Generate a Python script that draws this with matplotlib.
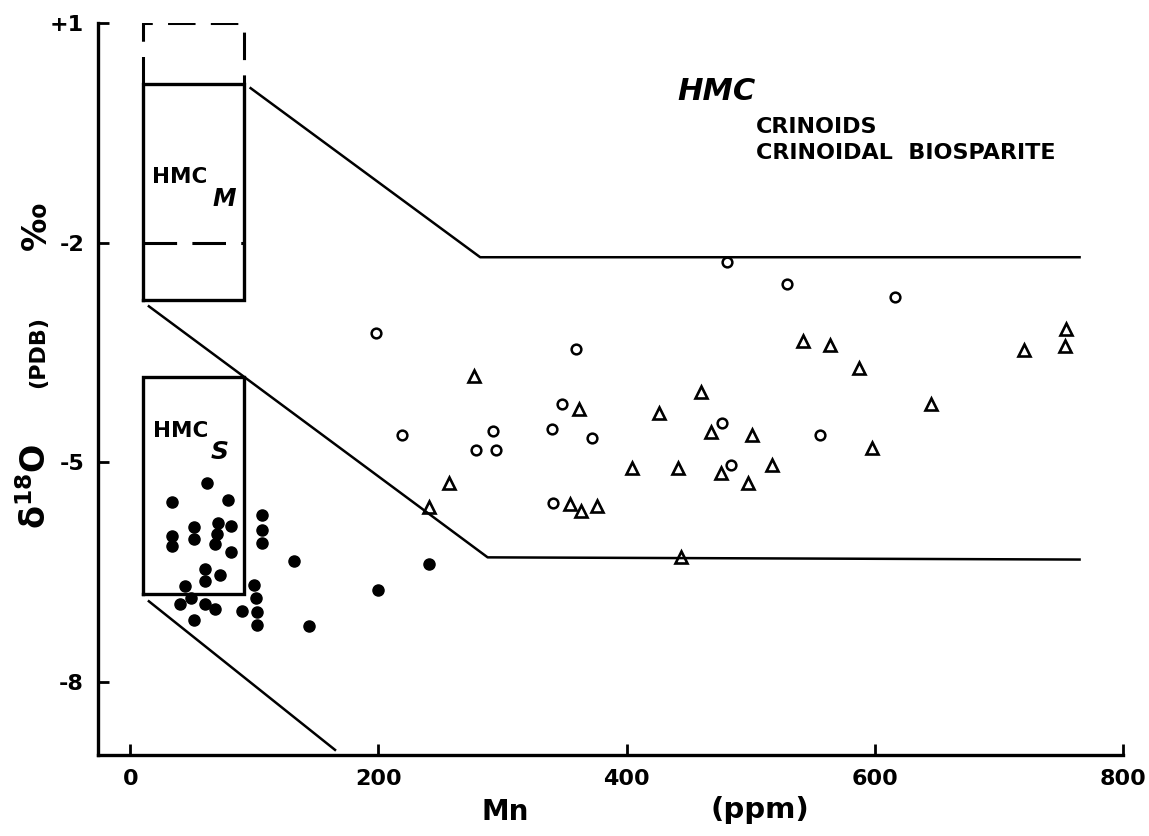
import matplotlib
matplotlib.use("Agg")
import matplotlib.pyplot as plt

# Mn (ppm) and d18O (per mil PDB) values
solid_mn = [62, 34, 79, 106, 106, 106, 34, 34, 51, 51, 71, 81, 70, 68, 81,
            132, 60, 60, 72, 44, 100, 200, 241, 49, 40, 60, 68, 90, 101, 102,
            102, 51, 144]
solid_d18o = [-5.29, -5.55, -5.52, -5.72, -5.92, -6.11, -6.01, -6.15, -5.89,
              -6.05, -5.83, -5.87, -5.98, -6.12, -6.22, -6.35, -6.46, -6.62,
              -6.54, -6.69, -6.68, -6.74, -6.39, -6.86, -6.94, -6.94, -7.01,
              -7.03, -6.85, -7.04, -7.23, -7.16, -7.24]

crinoid_mn = [198, 219, 292, 279, 295, 359, 348, 340, 372, 341, 481, 529,
              616, 477, 556, 484]
crinoid_d18o = [-3.23, -4.63, -4.58, -4.83, -4.84, -3.45, -4.21, -4.54,
                -4.67, -5.56, -2.27, -2.56, -2.75, -4.46, -4.63, -5.04]

biosparite_mn = [277, 362, 426, 257, 241, 354, 363, 376, 404, 441, 444, 542,
                 564, 587, 754, 753, 720, 460, 645, 468, 501, 598, 476, 517,
                 498]
biosparite_d18o = [-3.82, -4.28, -4.33, -5.29, -5.61, -5.57, -5.66, -5.60,
                   -5.08, -5.08, -6.30, -3.34, -3.40, -3.71, -3.18, -3.41,
                   -3.47, -4.04, -4.21, -4.59, -4.63, -4.80, -5.15, -5.04,
                   -5.29]

# field boxes (Mn range, d18O range) and trend boundaries
box_mn = [10.5, 92]
hmcm_d18o = [-2.78, 0.17]
hmcm_dashed_top = 1.0
hmcm_split = -2.0
hmcs_d18o = [-6.8, -3.83]
upper_bound_mn = [97, 282, 765]
upper_bound_d18o = [0.11, -2.2, -2.2]
middle_bound_mn = [15, 288, 765]
middle_bound_d18o = [-2.87, -6.3, -6.33]
lower_bound_mn = [15, 165]
lower_bound_d18o = [-6.9, -8.93]

x_ticks = [0, 200, 400, 600, 800]
y_ticks = [1, -2, -5, -8]
y_tick_labels = ["+1", "-2", "-5", "-8"]

W, H = 1149, 836
fig = plt.figure(figsize=(W / 100, H / 100), dpi=100)
ax = fig.add_axes([98 / W, 1 - 755 / H, (1123 - 98) / W, (755 - 23) / H])
ax.set_xlim(-26, 800)
ax.set_ylim(-9, 1)

bold = dict(family="DejaVu Sans", fontweight="bold")

# scatter groups
ax.plot(solid_mn, solid_d18o, "o", ms=8, color="black", mec="black")
ax.plot(crinoid_mn, crinoid_d18o, "o", ms=7, mfc="white", mec="black", mew=1.8)
ax.plot(biosparite_mn, biosparite_d18o, "^", ms=8.5, mfc="white", mec="black", mew=1.9)

# boundaries
ax.plot(upper_bound_mn, upper_bound_d18o, color="black", lw=1.8)
ax.plot(middle_bound_mn, middle_bound_d18o, color="black", lw=1.8)
ax.plot(lower_bound_mn, lower_bound_d18o, color="black", lw=1.8)

# HMC_M box with dashed extension
x0, x1 = box_mn
ax.plot([x0, x1, x1, x0, x0], [hmcm_d18o[0], hmcm_d18o[0], hmcm_d18o[1], hmcm_d18o[1], hmcm_d18o[0]],
        color="black", lw=2.4, solid_joinstyle="miter")
ax.plot([x0, x0, x1, x1], [hmcm_d18o[1], hmcm_dashed_top, hmcm_dashed_top, hmcm_d18o[1]],
        color="black", lw=2.2, ls=(0, (9, 5)))
ax.plot([x0, x1], [hmcm_split, hmcm_split], color="black", lw=2.2, ls=(0, (11, 5)))

# HMC_S box
ax.plot([x0, x1, x1, x0, x0], [hmcs_d18o[0], hmcs_d18o[0], hmcs_d18o[1], hmcs_d18o[1], hmcs_d18o[0]],
        color="black", lw=2.4, solid_joinstyle="miter")

ax.text(17.5, -1.1, "HMC", fontsize=15.5, va="center", ha="left", **bold)
ax.text(66, -1.4, "M", fontsize=17, va="center", ha="left", style="italic", **bold)
ax.text(18.5, -4.58, "HMC", fontsize=15.5, va="center", ha="left", **bold)
ax.text(65, -4.86, "S", fontsize=18, va="center", ha="left", style="italic", **bold)

ax.text(441, 0.06, "HMC", fontsize=22, va="center", ha="left", style="italic", **bold)
ax.text(504, -0.42, "CRINOIDS", fontsize=16, va="center", ha="left", **bold)
ax.text(504, -0.77, "CRINOIDAL  BIOSPARITE", fontsize=16, va="center", ha="left", **bold)

# axes styling
for side in ("top", "right"):
    ax.spines[side].set_visible(False)
for side in ("left", "bottom"):
    ax.spines[side].set_linewidth(2.4)
ax.set_xticks(x_ticks)
ax.set_xticklabels([str(t) for t in x_ticks], fontsize=16, **bold)
ax.set_yticks(y_ticks)
ax.set_yticklabels(y_tick_labels, fontsize=16, **bold)
ax.tick_params(direction="in", length=8, width=2)
ax.tick_params(axis="x", pad=10)
ax.tick_params(axis="y", pad=10)

# axis titles
fig.text(505 / W, 1 - 812 / H, "Mn", fontsize=20, ha="center", va="center", **bold)
fig.text(760 / W, 1 - 810 / H, "(ppm)", fontsize=21, ha="center", va="center", **bold)
fig.text(36 / W, 1 - 486 / H, r"$\mathbf{\delta^{18}O}$", fontsize=24, rotation=90,
         ha="center", va="center", **bold)
fig.text(38 / W, 1 - 352 / H, "(PDB)", fontsize=16, rotation=90, ha="center", va="center", **bold)
fig.text(36 / W, 1 - 226 / H, "‰", fontsize=24, rotation=90, ha="center", va="center", **bold)

fig.savefig("out.png", dpi=100, facecolor="white")
